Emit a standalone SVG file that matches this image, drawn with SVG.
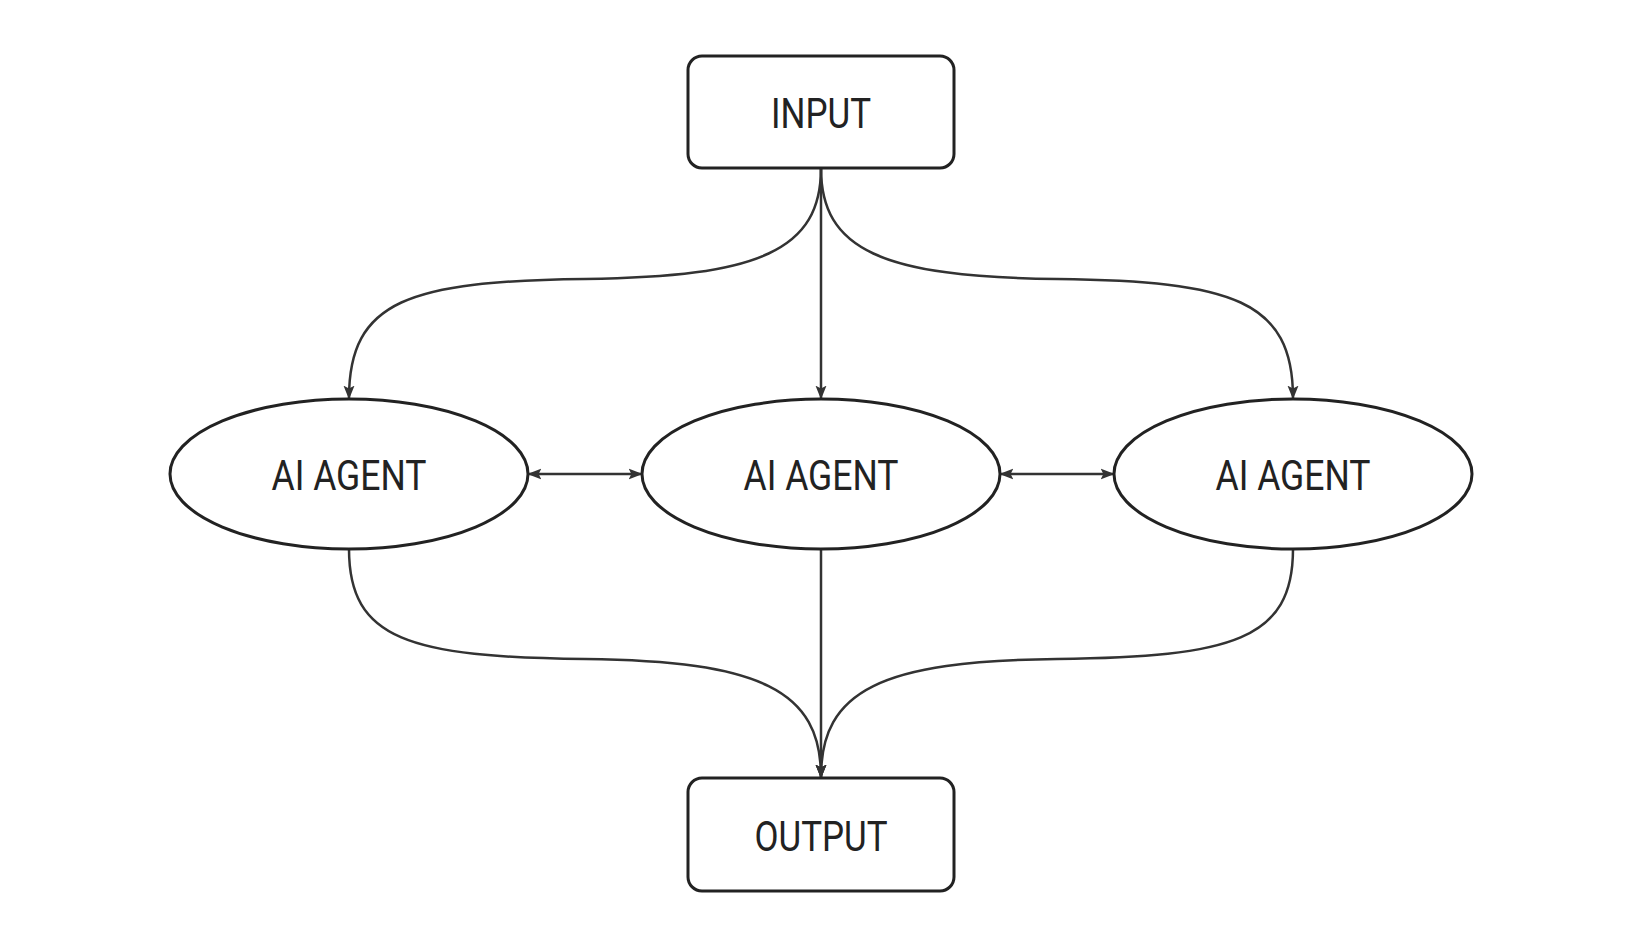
<svg xmlns="http://www.w3.org/2000/svg" width="1642" height="951" viewBox="0 0 1642 951">
<style>
.n{fill:#fff;stroke:#222;stroke-width:3}
.t{font-family:Roboto,"Liberation Sans",sans-serif;font-size:42px;fill:#222;text-anchor:middle}
.c{fill:none;stroke:#333;stroke-width:2.5}
</style>
<defs>
<marker id="a" viewBox="0 0 10 10" refX="9" refY="5" markerWidth="5.5" markerHeight="5.5" orient="auto-start-reverse"><path d="M0,1 L10,5 L0,9 L2,5 z" fill="#333"/></marker>
</defs>
<rect width="1642" height="951" fill="#fff"/>
<g id="connectors">
<path class="c" marker-end="url(#a)" d="M821 168 C821 250 760 277 585 279 C410 281 349 300 349 398"/>
<path class="c" marker-end="url(#a)" d="M821 168 L821 398"/>
<path class="c" marker-end="url(#a)" d="M821 168 C821 250 882 277 1057 279 C1232 281 1293 300 1293 398"/>
<path class="c" marker-end="url(#a)" d="M349 549 C349 640 410 657 585 659 C760 661 821 690 821 777"/>
<path class="c" marker-end="url(#a)" d="M821 549 L821 777"/>
<path class="c" marker-end="url(#a)" d="M1293 549 C1293 640 1232 657 1057 659 C882 661 821 690 821 777"/>
<path class="c" stroke-width="3" marker-start="url(#a)" marker-end="url(#a)" d="M529 474 L641 474"/>
<path class="c" stroke-width="3" marker-start="url(#a)" marker-end="url(#a)" d="M1001 474 L1113 474"/>
</g>
<g id="input"><rect class="n" x="688" y="56" width="266" height="112" rx="14"/><text class="t" x="821" y="128" textLength="100" lengthAdjust="spacingAndGlyphs">INPUT</text></g>
<g id="agent1"><ellipse class="n" cx="349" cy="474" rx="179" ry="75"/><text class="t" x="349" y="490" textLength="155" lengthAdjust="spacingAndGlyphs">AI AGENT</text></g>
<g id="agent2"><ellipse class="n" cx="821" cy="474" rx="179" ry="75"/><text class="t" x="821" y="490" textLength="155" lengthAdjust="spacingAndGlyphs">AI AGENT</text></g>
<g id="agent3"><ellipse class="n" cx="1293" cy="474" rx="179" ry="75"/><text class="t" x="1293" y="490" textLength="155" lengthAdjust="spacingAndGlyphs">AI AGENT</text></g>
<g id="output"><rect class="n" x="688" y="778" width="266" height="113" rx="14"/><text class="t" x="821" y="851" textLength="133" lengthAdjust="spacingAndGlyphs">OUTPUT</text></g>
</svg>
